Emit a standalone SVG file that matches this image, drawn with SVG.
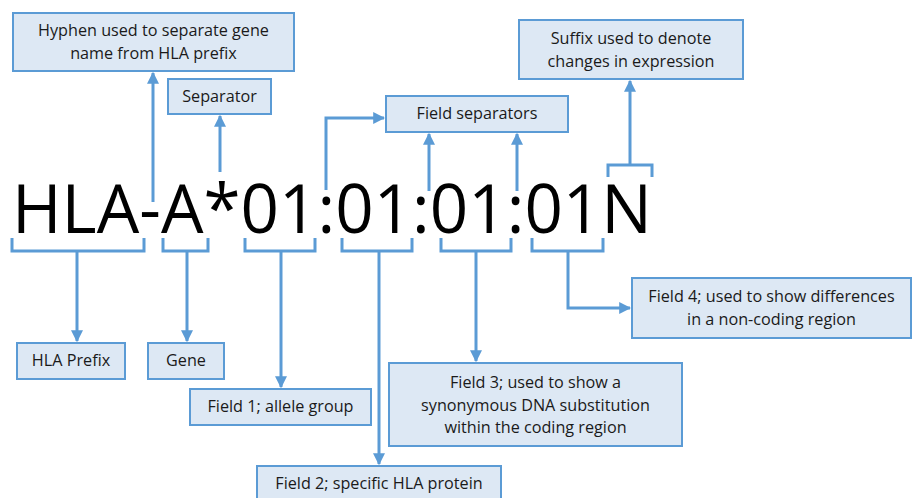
<svg xmlns="http://www.w3.org/2000/svg" width="912" height="498" viewBox="0 0 912 498">
<defs>
<marker id="ah" viewBox="0 0 10 10" refX="9" refY="5" markerWidth="4" markerHeight="4" orient="auto" markerUnits="strokeWidth">
<path d="M0,0 L10,5 L0,10 Z" fill="#5b9bd5"/>
</marker>
<style>
.box{fill:#dde8f4;stroke:#5b9bd5;stroke-width:2}
.t{font-family:"Open Sans","Liberation Sans",sans-serif;font-size:16.2px;fill:#1a1a1a;text-anchor:middle}
.c{fill:none;stroke:#5b9bd5;stroke-width:3}
.a{marker-end:url(#ah)}
.big{font-family:"Open Sans","Liberation Sans",sans-serif;font-size:68px;fill:#000}
</style>
</defs>
<rect width="912" height="498" fill="#fff"/>
<text class="big" x="12" y="233" textLength="640" lengthAdjust="spacingAndGlyphs">HLA-A*01:01:01:01N</text>
<g id="connectors">
<path class="c" d="M12,238 V251 H144 V238"/>
<path class="c" d="M163,238 V251 H208 V238"/>
<path class="c" d="M245,238 V251 H315 V238"/>
<path class="c" d="M342,238 V251 H412 V238"/>
<path class="c" d="M441,238 V251 H511 V238"/>
<path class="c" d="M532,238 V251 H603 V238"/>
<path class="c" d="M608,177 V165 H652 V177"/>
<path class="c a" d="M153,202 V73"/>
<path class="c a" d="M220,172 V116"/>
<path class="c a" d="M326,190 V118 H384"/>
<path class="c a" d="M429,191 V134"/>
<path class="c a" d="M517,191 V134"/>
<path class="c a" d="M630,165 V81"/>
<path class="c a" d="M77,251 V341"/>
<path class="c a" d="M187,251 V341"/>
<path class="c a" d="M281,251 V387"/>
<path class="c a" d="M379,251 V464"/>
<path class="c a" d="M476,251 V361"/>
<path class="c a" d="M568,251 V308 H630"/>
</g>
<g id="hyphen"><rect class="box" x="13" y="13" width="281" height="58"/><text class="t" x="153.5" y="36">Hyphen used to separate gene</text><text class="t" x="153.5" y="59">name from HLA prefix</text></g>
<g id="separator"><rect class="box" x="168" y="79" width="103" height="35"/><text class="t" x="219.5" y="102">Separator</text></g>
<g id="fieldsep"><rect class="box" x="386" y="96" width="182" height="36"/><text class="t" x="477" y="119">Field separators</text></g>
<g id="suffix"><rect class="box" x="519" y="20" width="224" height="59"/><text class="t" x="631" y="44">Suffix used to denote</text><text class="t" x="631" y="67">changes in expression</text></g>
<g id="prefix"><rect class="box" x="17" y="343" width="108" height="36"/><text class="t" x="71" y="366">HLA Prefix</text></g>
<g id="gene"><rect class="box" x="148" y="343" width="76" height="36"/><text class="t" x="186" y="366">Gene</text></g>
<g id="field1"><rect class="box" x="190" y="389" width="181" height="36"/><text class="t" x="280.5" y="412">Field 1; allele group</text></g>
<g id="field2"><rect class="box" x="257" y="466" width="244" height="40"/><text class="t" x="379" y="489">Field 2; specific HLA protein</text></g>
<g id="field3"><rect class="box" x="389" y="363" width="293" height="83"/><text class="t" x="535.5" y="388">Field 3; used to show a</text><text class="t" x="535.5" y="411">synonymous DNA substitution</text><text class="t" x="535.5" y="433">within the coding region</text></g>
<g id="field4"><rect class="box" x="632" y="278" width="279" height="60"/><text class="t" x="771.5" y="302">Field 4; used to show differences</text><text class="t" x="771.5" y="325">in a non-coding region</text></g>
</svg>
